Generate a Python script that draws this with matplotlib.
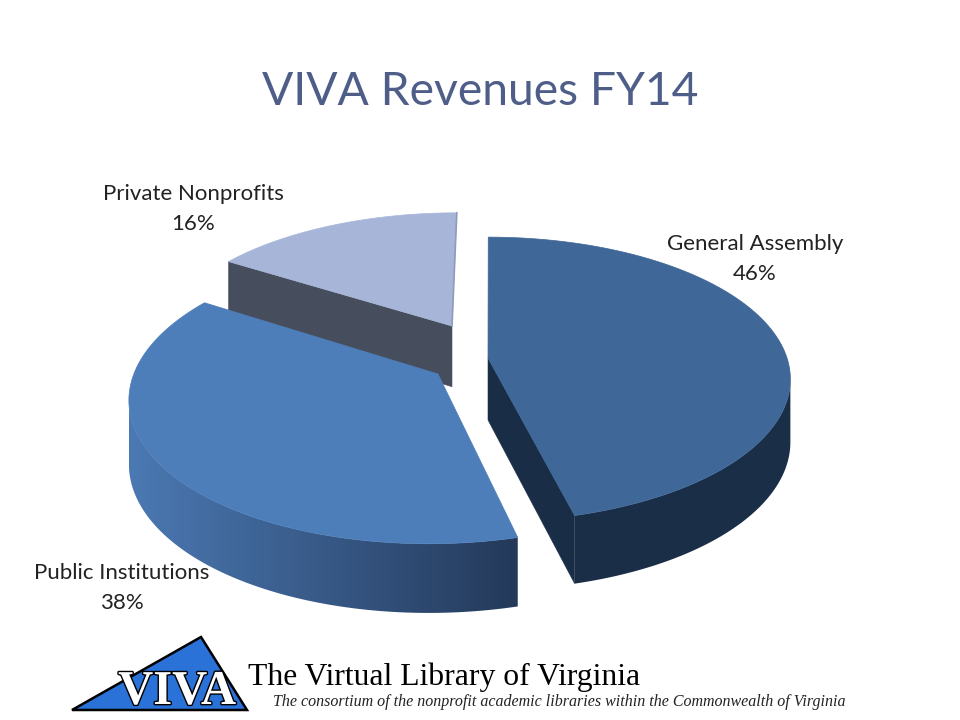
import numpy as np
import matplotlib
matplotlib.use('Agg')
import matplotlib.pyplot as plt
import matplotlib.patheffects as pe
from matplotlib.colors import LinearSegmentedColormap
from matplotlib.patches import Polygon

# Chart data
labels = ['General Assembly', 'Public Institutions', 'Private Nonprofits']
shares = [46, 38, 16]

# Colours
top_colors = ['#3F6797', '#4D7EBA', '#A7B6D8']
wall_left = ['#1A2E47', '#4B79B3', '#444C5C']
wall_right = ['#1A2E47', '#24395A', '#444C5C']
cut_colors = ['#1A2D46', '#24395A', '#464D5C']

# Camera for the tilted pie, in pixels
CX, CY = 490, 358
RX, RY = 299, 139
K = 0.15
DEPTH = 62

# where the tip of each exploded slice lands on screen
tips = [(488, 358), (438, 374), (452, 326)]
label_pos = [(755, 259), (122, 588), (193, 209)]
# which slice edge shows its cut wall (index into the slice edges)
cut_edge = [1, None, 2]


def project(x, y, z=0):
    w = 1 / (1 - K * y)
    return CX + RX * x * w, CY + RY * y * w + z * DEPTH * w ** 0.6


def tip_offset(tip):
    # inverse of project() for a point on the top face
    v = (tip[1] - CY) / RY
    y = v / (1 + K * v)
    w = 1 / (1 - K * y)
    return (tip[0] - CX) / (RX * w), y


def rim(angles, off):
    return off[0] + np.sin(angles), off[1] - np.cos(angles)


fig = plt.figure(figsize=(9.6, 7.2), dpi=100)
ax = fig.add_axes([0, 0, 1, 1])

# slice angles, clockwise from 12 o'clock
edges = np.radians(np.cumsum([0] + shares) * 3.6)

# back slice first so the front ones cover it
for i in [2, 1, 0]:
    base = (2 - i) * 10 + 2
    off = tip_offset(tips[i])
    t = np.linspace(edges[i], edges[i + 1], 300)
    rx_, ry_ = rim(t, off)

    # straight cut wall
    if cut_edge[i] is not None:
        a = edges[cut_edge[i]]
        ex, ey = rim(np.array([a]), off)
        x0, y0 = project(off[0], off[1])
        x1, y1 = project(ex[0], ey[0])
        x2, y2 = project(ex[0], ey[0], 1)
        x3, y3 = project(off[0], off[1], 1)
        ax.fill([x0, x1, x2, x3], [y0, y1, y2, y3], color=cut_colors[i], lw=0.4, zorder=base)

    # curved outer wall, from the right silhouette point to the left one
    px = project(rx_, ry_)[0]
    lo, hi = px.argmax(), px.argmin()
    if hi <= lo:
        hi = len(t) - 1
    if hi > lo:
        xa, ya = project(rx_[lo:hi + 1], ry_[lo:hi + 1])
        xb, yb = project(rx_[lo:hi + 1], ry_[lo:hi + 1], 1)
        wall = np.column_stack([np.r_[xa, xb[::-1]], np.r_[ya, yb[::-1]]])
        cmap = LinearSegmentedColormap.from_list('wall', [wall_left[i], wall_right[i]])
        im = ax.imshow(np.linspace(0, 1, 256)[None, :], cmap=cmap, aspect='auto',
                       extent=[wall[:, 0].min(), wall[:, 0].max(), wall[:, 1].max(), wall[:, 1].min()],
                       zorder=base + 1)
        clip = Polygon(wall, closed=True, transform=ax.transData)
        im.set_clip_path(clip)

    # top face
    fx, fy = project(np.r_[off[0], rx_], np.r_[off[1], ry_])
    ax.fill(fx, fy, color=top_colors[i], lw=0.5, zorder=base + 2)

# thin lit edge on the right side of the back slice
x_e, y_e = project(*rim(np.array([edges[3]]), tip_offset(tips[2])))
x_t, y_t = tips[2]
ax.plot([x_e[0], x_t], [y_e[0], y_t], color='#8F9BB8', lw=1.2, zorder=5)

ax.set_xlim(0, 960)
ax.set_ylim(720, 0)
ax.axis('off')

# Title and labels
ax.text(480, 92, 'VIVA Revenues FY14', ha='center', va='center', fontsize=33.3,
        family='Lato', color='#4F5E89')
for name, share, pos in zip(labels, shares, label_pos):
    ax.text(pos[0], pos[1], f'{name}\n{share}%', ha='center', va='center',
            fontsize=16, family='Lato', color='#222222', linespacing=1.6)

# Logo and footer
ax.fill([72, 201, 247], [710, 637, 710], facecolor='#2A72D8', edgecolor='black',
        lw=1.8, joinstyle='miter', zorder=30)
ax.text(177, 692, 'VIVA', ha='center', va='center', fontsize=35, fontweight='bold',
        family='Liberation Serif', color='white', zorder=31,
        path_effects=[pe.withStroke(linewidth=2, foreground='black')])
ax.text(248, 677, 'The Virtual Library of Virginia', ha='left', va='center',
        fontsize=22.8, family='Liberation Serif', color='black')
ax.text(273, 702, 'The consortium of the nonprofit academic libraries within the Commonwealth of Virginia',
        ha='left', va='center', fontsize=11.5, style='italic', family='Liberation Serif',
        color='#222222')

fig.savefig('out.png', dpi=100)
